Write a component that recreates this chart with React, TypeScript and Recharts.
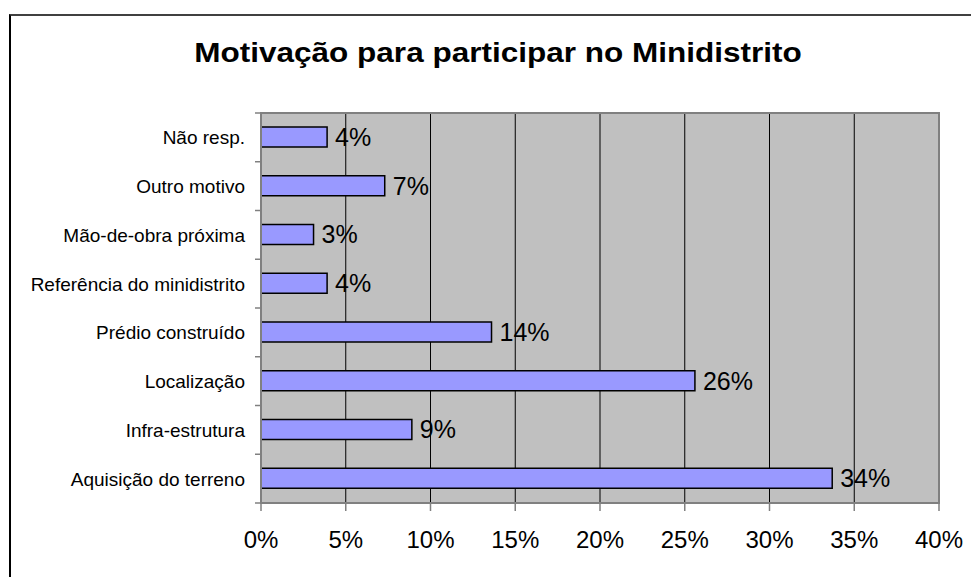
import { BarChart, Bar, XAxis, YAxis, CartesianGrid, LabelList, ReferenceArea } from 'recharts';

const categories = [
  'Não resp.',
  'Outro motivo',
  'Mão-de-obra próxima',
  'Referência do minidistrito',
  'Prédio construído',
  'Localização',
  'Infra-estrutura',
  'Aquisição do terreno',
];
const values = [3.9, 7.3, 3.1, 3.9, 13.6, 25.6, 8.9, 33.7];
const xTicks = [0, 5, 10, 15, 20, 25, 30, 35, 40];

const data = categories.map((name, i) => ({ name, value: values[i] }));

const FONT = 'Liberation Sans, Arial, sans-serif';
const PLOT_TOP = 113;
const PLOT_BOTTOM = 503;
const BAND = (PLOT_BOTTOM - PLOT_TOP) / categories.length;

// category label at band centre, tick marks at band edges (Excel style)
function CategoryTick(props: any) {
  const { x, y, payload, index } = props;
  const axisX = x + 16;
  return (
    <g>
      <text x={x} y={y} dy={7} textAnchor="end" fontSize={19} fill="#000" fontFamily={FONT}>
        {payload.value}
      </text>
      <line x1={axisX - 6} x2={axisX} y1={y - BAND / 2} y2={y - BAND / 2} stroke="#808080" strokeWidth={1.5} />
      {index === categories.length - 1 && (
        <line x1={axisX - 6} x2={axisX} y1={y + BAND / 2} y2={y + BAND / 2} stroke="#808080" strokeWidth={1.5} />
      )}
    </g>
  );
}

export default function App() {
  return (
    <div style={{ position: 'absolute', left: 0, top: 0, width: 971, height: 577, overflow: 'hidden', background: '#fff' }}>
      <div
        style={{
          position: 'absolute',
          left: 9,
          top: 14,
          width: 1100,
          height: 700,
          borderTop: '2px solid #404040',
          borderLeft: '2px solid #000',
        }}
      />
      <div
        style={{
          position: 'absolute',
          left: 0,
          width: 996,
          top: 37,
          textAlign: 'center',
          fontFamily: FONT,
          fontWeight: 'bold',
          fontSize: 28,
          color: '#000',
          transform: 'scaleX(1.125)',
          transformOrigin: '498px 0',
        }}
      >
        Motivação para participar no Minidistrito
      </div>
      <div style={{ position: 'absolute', left: 0, top: 0 }}>
        <BarChart
          width={971}
          height={577}
          data={data}
          layout="vertical"
          barCategoryGap={0}
          margin={{ top: PLOT_TOP, right: 32, bottom: 24, left: 11 }}
        >
          <CartesianGrid horizontal={false} stroke="#000" fill="#C0C0C0" fillOpacity={1} />
          <XAxis
            type="number"
            domain={[0, 40]}
            ticks={xTicks}
            interval={0}
            height={50}
            tickFormatter={(v: number) => `${v}%`}
            axisLine={{ stroke: '#808080', strokeWidth: 2 }}
            tickLine={{ stroke: '#808080', strokeWidth: 1.5 }}
            tickSize={8}
            tickMargin={20}
            tick={{ fontSize: 24, fill: '#000', fontFamily: FONT }}
          />
          <YAxis
            type="category"
            dataKey="name"
            width={250}
            axisLine={{ stroke: '#808080', strokeWidth: 2 }}
            tickLine={false}
            tickMargin={16}
            tickSize={0}
            interval={0}
            tick={<CategoryTick />}
          />
          <ReferenceArea x1={0} x2={40} fill="none" stroke="#808080" strokeWidth={2} ifOverflow="visible" />
          <Bar dataKey="value" fill="#9999FF" stroke="#000" strokeWidth={1.5} barSize={20} isAnimationActive={false}>
            <LabelList
              dataKey="value"
              position="right"
              offset={8}
              formatter={(v: any) => `${Math.round(Number(v))}%`}
              style={{ fontSize: 25, fill: '#000', fontFamily: FONT }}
            />
          </Bar>
        </BarChart>
      </div>
    </div>
  );
}
